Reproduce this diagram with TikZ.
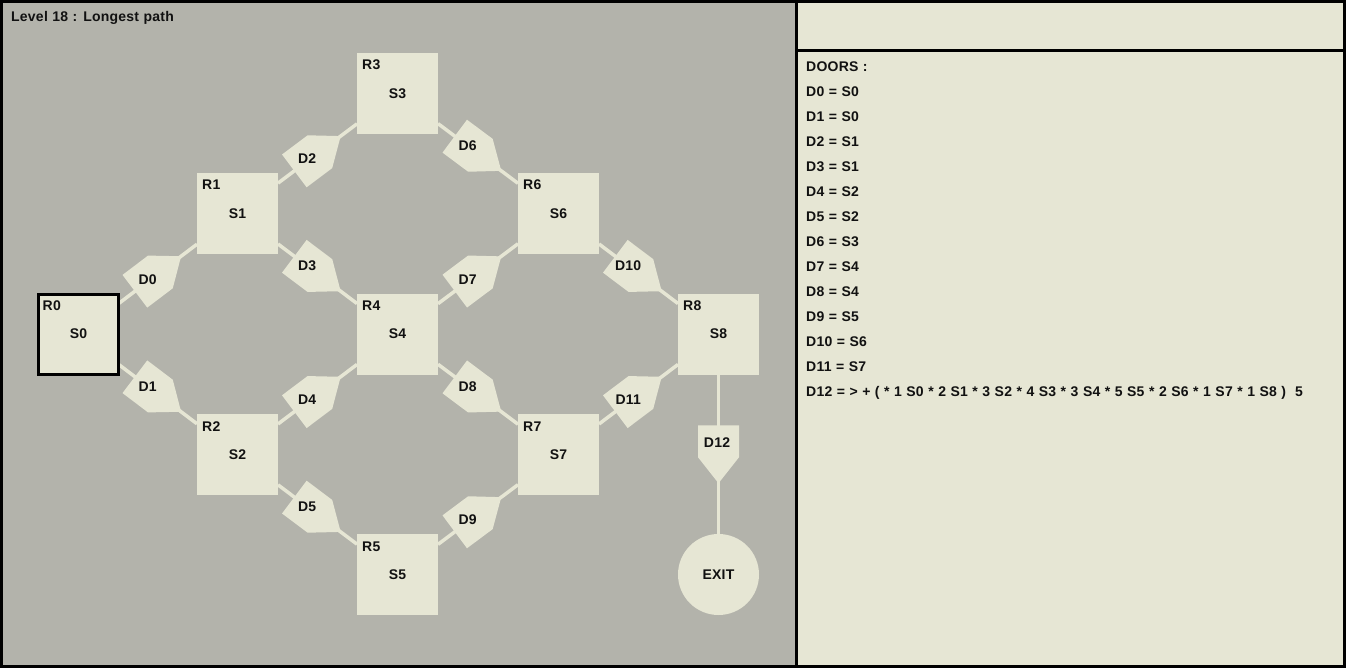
\documentclass[tikz,border=0pt]{standalone}
\usepackage{fontspec}
\setmainfont{Liberation Sans}[LetterSpace=1.6,WordSpace=1.1]
\usetikzlibrary{calc}
\definecolor{panelgray}{RGB}{179,179,171}
\definecolor{beige}{RGB}{230,230,212}
\definecolor{txt}{RGB}{17,17,17}
\pgfdeclarelayer{back}
\pgfdeclarelayer{links}
\pgfsetlayers{back,links,main}
\newcommand\myroom[4]{%
  \node[room] (r#1) at (#2,#3) {S#1};
  \node[tag] (t#1) at ($(r#1.north west)+(5,17)$) {R#1};
}
\newcommand\mydoor[4]{%
  \coordinate (#3m) at ($(#1.center)!0.5!(#2.center)$);
  \path let \p1=($(#2.center)-(#1.center)$), \n1={atan2(\y1,\x1)} in (#3m) pic[rotate=\n1] {doorshape};
  \node[dlabel] (#3) at ($(#3m)!11pt!(#1.center)+(-1.5,-1)$) {#4};
}
\begin{document}
\begin{tikzpicture}[x=1pt,y=-1pt,
  every node/.style={font=\fontsize{14}{16}\selectfont\bfseries, text=txt},
  room/.style={rectangle, fill=beige, minimum size=81pt, inner sep=0pt, outer sep=0pt},
  tag/.style={inner sep=0pt, anchor=base west},
  link/.style={draw=beige, line width=3.5pt},
  dlabel/.style={inner sep=0pt},
  exitnode/.style={circle, fill=beige, minimum size=81pt, inner sep=0pt},
  doorshape/.pic={\fill[beige] (-29,-20.5) -- (3,-20.5) -- (29,0) -- (3,20.5) -- (-29,20.5) -- cycle;},
  paneltext/.style={inner sep=0pt, anchor=base west}
]
\useasboundingbox (0,0) rectangle (1346,668);
\begin{pgfonlayer}{back}
\fill[black] (0,0) rectangle (1346,668);
\fill[panelgray] (3,3) rectangle (795,665);
\fill[beige] (798,3) rectangle (1343,49);
\fill[beige] (798,52) rectangle (1343,665);
\end{pgfonlayer}

\node[paneltext] (title) at (11,21.5) {Level 18 : Longest path};

% rooms
\node[room, draw=black, line width=3pt, minimum size=80pt] (r0) at (78.5,334) {S0};
\node[tag] (t0) at (42.5,310) {R0};
\myroom{1}{237.5}{213.5}{}
\myroom{2}{237.5}{454.5}{}
\myroom{3}{397.5}{93.5}{}
\myroom{4}{397.5}{334}{}
\myroom{5}{397.5}{574.5}{}
\myroom{6}{558.5}{213.5}{}
\myroom{7}{558.5}{454.5}{}
\myroom{8}{718.5}{334}{}
\node[exitnode] (exit) at (718.5,574.5) {EXIT};

% connectors
\begin{pgfonlayer}{links}
\draw[link] (r0) -- (r1);
\draw[link] (r0) -- (r2);
\draw[link] (r1) -- (r3);
\draw[link] (r1) -- (r4);
\draw[link] (r2) -- (r4);
\draw[link] (r2) -- (r5);
\draw[link] (r3) -- (r6);
\draw[link] (r4) -- (r6);
\draw[link] (r4) -- (r7);
\draw[link] (r5) -- (r7);
\draw[link] (r6) -- (r8);
\draw[link] (r7) -- (r8);
\draw[link] (r8) -- (exit);
\end{pgfonlayer}

% doors
\mydoor{r0}{r1}{d0}{D0}
\mydoor{r0}{r2}{d1}{D1}
\mydoor{r1}{r3}{d2}{D2}
\mydoor{r1}{r4}{d3}{D3}
\mydoor{r2}{r4}{d4}{D4}
\mydoor{r2}{r5}{d5}{D5}
\mydoor{r3}{r6}{d6}{D6}
\mydoor{r4}{r6}{d7}{D7}
\mydoor{r4}{r7}{d8}{D8}
\mydoor{r5}{r7}{d9}{D9}
\mydoor{r6}{r8}{d10}{D10}
\mydoor{r7}{r8}{d11}{D11}
\mydoor{r8}{exit}{d12}{D12}

% right panel
\node[paneltext] (hdr) at (806,72) {DOORS :};
\node[paneltext] (l0) at (806,96.5) {D0 = S0};
\node[paneltext] (l1) at (806,121.5) {D1 = S0};
\node[paneltext] (l2) at (806,146.5) {D2 = S1};
\node[paneltext] (l3) at (806,171.5) {D3 = S1};
\node[paneltext] (l4) at (806,196.5) {D4 = S2};
\node[paneltext] (l5) at (806,221.5) {D5 = S2};
\node[paneltext] (l6) at (806,246.5) {D6 = S3};
\node[paneltext] (l7) at (806,271.5) {D7 = S4};
\node[paneltext] (l8) at (806,296.5) {D8 = S4};
\node[paneltext] (l9) at (806,321.5) {D9 = S5};
\node[paneltext] (l10) at (806,346.5) {D10 = S6};
\node[paneltext] (l11) at (806,371.5) {D11 = S7};
\node[paneltext] (l12) at (806,396.5) {D12 = > + ( * 1 S0 * 2 S1 * 3 S2 * 4 S3 * 3 S4 * 5 S5 * 2 S6 * 1 S7 * 1 S8 )\ \ 5};
\end{tikzpicture}
\end{document}
